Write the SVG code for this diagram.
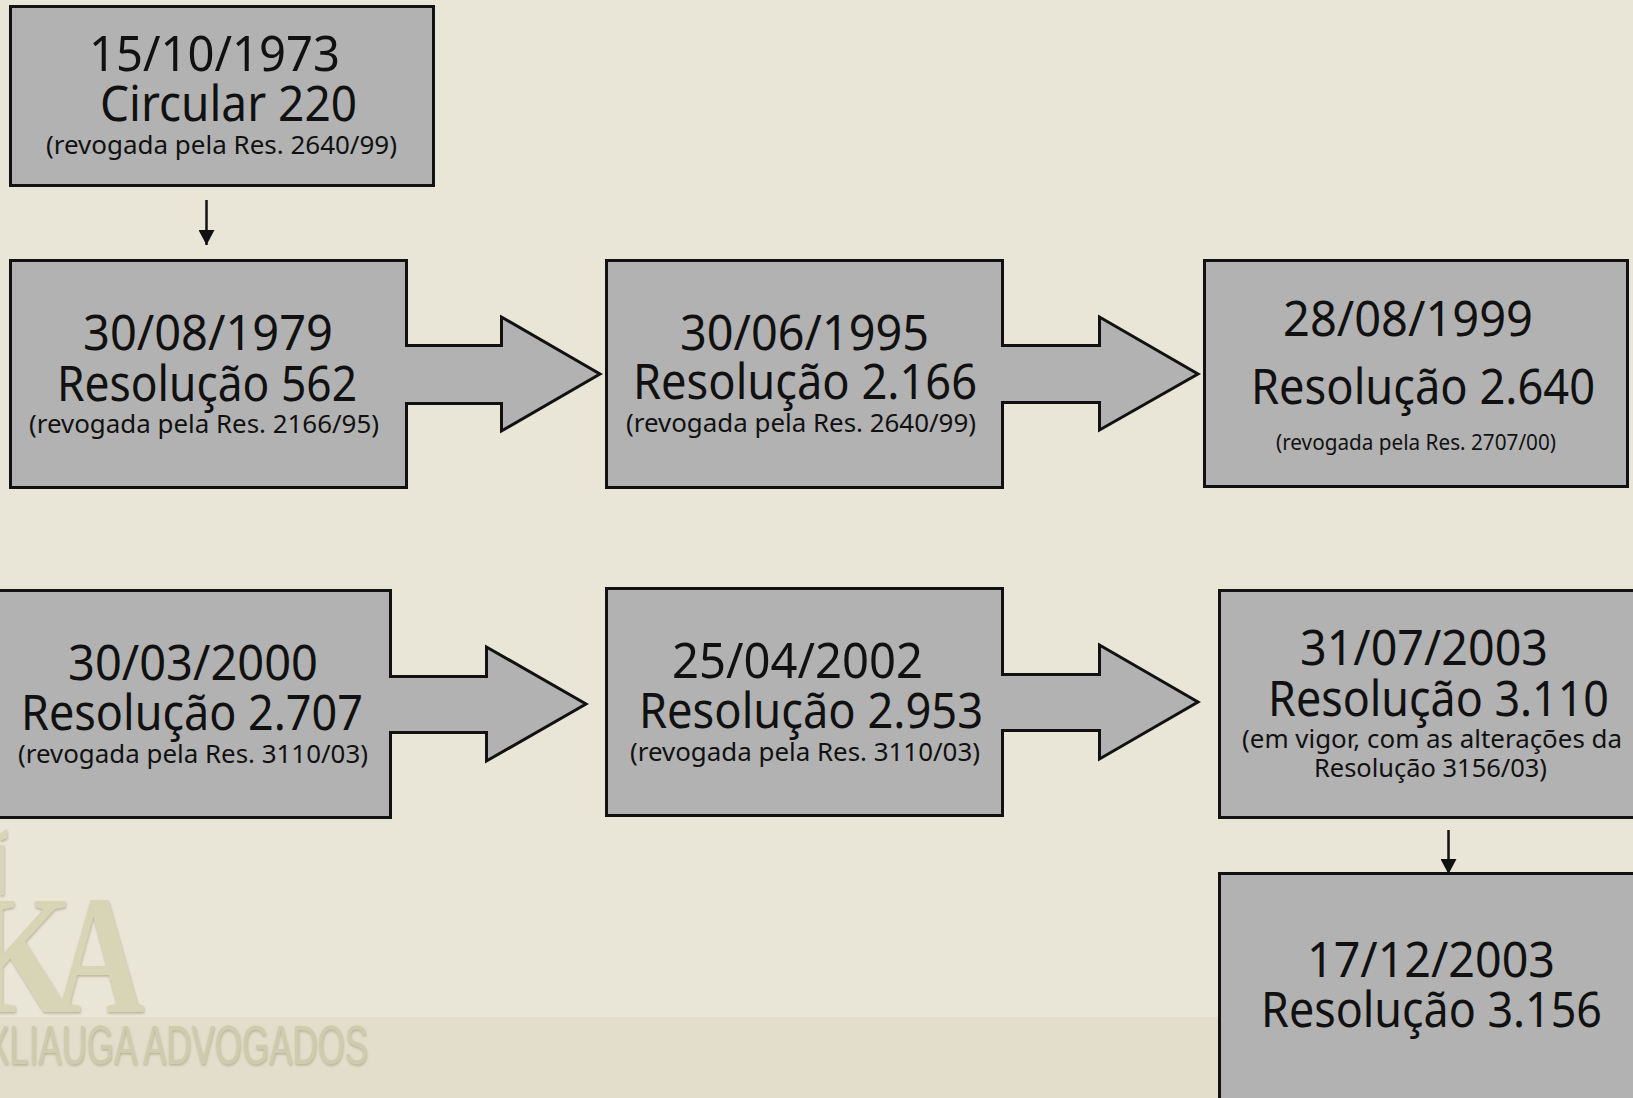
<svg xmlns="http://www.w3.org/2000/svg" width="1633" height="1098" viewBox="0 0 1633 1098">
<defs>
<style>
.node{fill:#b2b2b2;stroke:#111;stroke-width:3}
.big{font:49px "Noto Sans","DejaVu Sans",sans-serif;fill:#111}
.small{font:26px "Noto Sans","DejaVu Sans",sans-serif;fill:#111}
.tiny{font:22px "Noto Sans","DejaVu Sans",sans-serif;fill:#111}
.block{fill:#b2b2b2;stroke:#111;stroke-width:3}
.thin{stroke:#111;stroke-width:2.5;fill:none;marker-end:url(#tip)}
.logo{fill:#d8d4b6;font-family:"Liberation Serif",serif;font-weight:700;font-size:170px}
</style>
<marker id="tip" markerUnits="userSpaceOnUse" markerWidth="16" markerHeight="16" refX="15" refY="8" orient="auto"><path d="M0 0L15 8L0 16Z" fill="#111"/></marker>
<filter id="soft" x="-5%" y="-5%" width="110%" height="115%"><feDropShadow dx="0.500" dy="1.500" stdDeviation="0.800" flood-color="#aaa68a" flood-opacity="0.800"/></filter>
</defs>
<rect width="1633" height="1098" fill="#e9e6d8"/>
<rect y="1017" width="1633" height="81" fill="#e3ddcb"/>
<g id="logo" filter="url(#soft)">
<text class="logo" transform="translate(-32 1012) scale(0.8 1)">K</text>
<text class="logo" transform="translate(54 1012) scale(0.74 1)">A</text>
<path fill="#d8d4b6" d="M0 833L7 829L7 838L0 841ZM0 845H4V895H0Z"/>
<text x="-14" y="1064" textLength="382" lengthAdjust="spacingAndGlyphs" font-family="Liberation Sans,sans-serif" font-size="56" fill="#cfcbad">XLIAUGA ADVOGADOS</text>
</g>
<g id="n1"><rect class="node" x="10.500" y="6.500" width="423" height="179"/>
<text class="big" x="89" y="71" textLength="251" lengthAdjust="spacingAndGlyphs">15/10/1973</text>
<text class="big" x="100" y="121" textLength="257" lengthAdjust="spacingAndGlyphs">Circular 220</text>
<text class="small" x="46" y="154" textLength="351" lengthAdjust="spacingAndGlyphs">(revogada pela Res. 2640/99)</text></g>
<g id="n2"><rect class="node" x="10.500" y="260.500" width="396" height="227"/>
<text class="big" x="83" y="350" textLength="250" lengthAdjust="spacingAndGlyphs">30/08/1979</text>
<text class="big" x="57" y="401" textLength="300" lengthAdjust="spacingAndGlyphs">Resolução 562</text>
<text class="small" x="29" y="433" textLength="350" lengthAdjust="spacingAndGlyphs">(revogada pela Res. 2166/95)</text></g>
<g id="n3"><rect class="node" x="606.500" y="260.500" width="396" height="227"/>
<text class="big" x="680" y="350" textLength="249" lengthAdjust="spacingAndGlyphs">30/06/1995</text>
<text class="big" x="633" y="399" textLength="344" lengthAdjust="spacingAndGlyphs">Resolução 2.166</text>
<text class="small" x="626" y="432" textLength="350" lengthAdjust="spacingAndGlyphs">(revogada pela Res. 2640/99)</text></g>
<g id="n4"><rect class="node" x="1204.500" y="260.500" width="423" height="226"/>
<text class="big" x="1283" y="336" textLength="250" lengthAdjust="spacingAndGlyphs">28/08/1999</text>
<text class="big" x="1251" y="404" textLength="344" lengthAdjust="spacingAndGlyphs">Resolução 2.640</text>
<text class="tiny" x="1276" y="450" textLength="280" lengthAdjust="spacingAndGlyphs">(revogada pela Res. 2707/00)</text></g>
<g id="n5"><rect class="node" x="-10" y="590.500" width="400.500" height="227"/>
<text class="big" x="68" y="680" textLength="250" lengthAdjust="spacingAndGlyphs">30/03/2000</text>
<text class="big" x="21" y="730" textLength="342" lengthAdjust="spacingAndGlyphs">Resolução 2.707</text>
<text class="small" x="18" y="763" textLength="350" lengthAdjust="spacingAndGlyphs">(revogada pela Res. 3110/03)</text></g>
<g id="n6"><rect class="node" x="606.500" y="588.500" width="396" height="227"/>
<text class="big" x="672" y="678" textLength="251" lengthAdjust="spacingAndGlyphs">25/04/2002</text>
<text class="big" x="639" y="728" textLength="344" lengthAdjust="spacingAndGlyphs">Resolução 2.953</text>
<text class="small" x="630" y="761" textLength="350" lengthAdjust="spacingAndGlyphs">(revogada pela Res. 3110/03)</text></g>
<g id="n7"><rect class="node" x="1219.500" y="590.500" width="430" height="227"/>
<text class="big" x="1300" y="665" textLength="248" lengthAdjust="spacingAndGlyphs">31/07/2003</text>
<text class="big" x="1268" y="716" textLength="341" lengthAdjust="spacingAndGlyphs">Resolução 3.110</text>
<text class="small" x="1242" y="748" textLength="380" lengthAdjust="spacingAndGlyphs">(em vigor, com as alterações da</text>
<text class="small" x="1314" y="777" textLength="233" lengthAdjust="spacingAndGlyphs">Resolução 3156/03)</text></g>
<g id="n8"><rect class="node" x="1219.500" y="873.500" width="430" height="240"/>
<text class="big" x="1307" y="977" textLength="248" lengthAdjust="spacingAndGlyphs">17/12/2003</text>
<text class="big" x="1261" y="1027" textLength="341" lengthAdjust="spacingAndGlyphs">Resolução 3.156</text></g>
<g id="connectors">
<path class="thin" d="M206.500 200V245"/>
<path class="thin" d="M1448.500 830V874"/>
<path class="block" d="M405 345.500H501.500V317L600 374L501.500 431V403.500H405"/>
<path class="block" d="M1001 345.500H1099.500V317L1198 374L1099.500 430V402.500H1001"/>
<path class="block" d="M389 676.500H486.500V647L586 704L486.500 761V732.500H389"/>
<path class="block" d="M1001 674.500H1099.500V645L1198 702L1099.500 759V730.500H1001"/>
</g>
</svg>
